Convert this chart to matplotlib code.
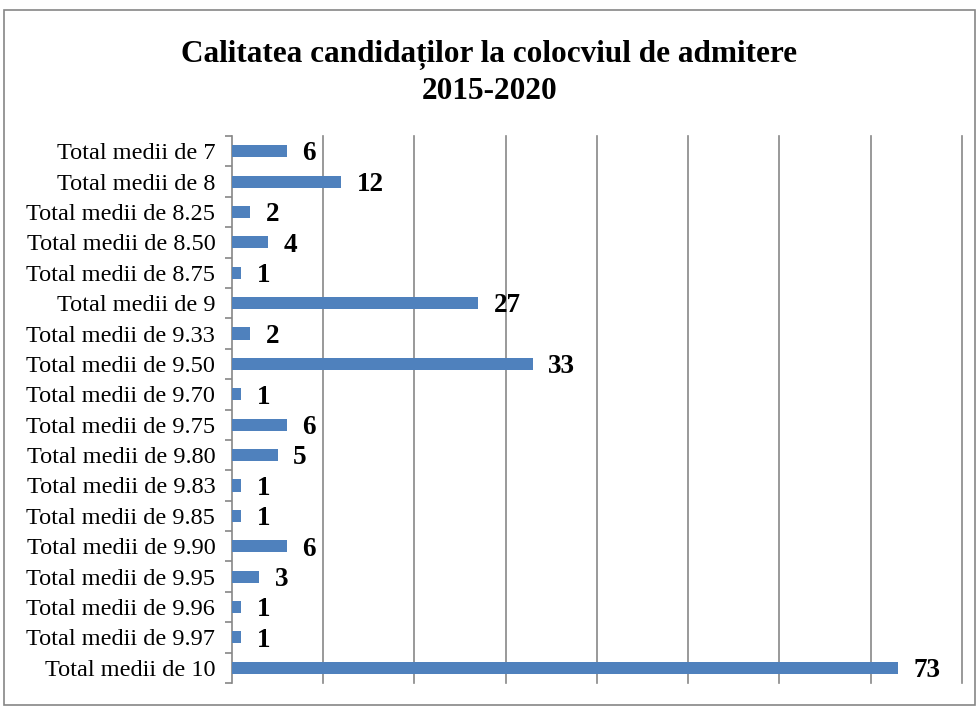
import matplotlib
matplotlib.use("Agg")
import matplotlib.pyplot as plt
from matplotlib.patches import Rectangle
import numpy as np

categories = ["Total medii de 7", "Total medii de 8", "Total medii de 8.25", "Total medii de 8.50",
              "Total medii de 8.75", "Total medii de 9", "Total medii de 9.33", "Total medii de 9.50",
              "Total medii de 9.70", "Total medii de 9.75", "Total medii de 9.80", "Total medii de 9.83",
              "Total medii de 9.85", "Total medii de 9.90", "Total medii de 9.95", "Total medii de 9.96",
              "Total medii de 9.97", "Total medii de 10"]
values = [6, 12, 2, 4, 1, 27, 2, 33, 1, 6, 5, 1, 1, 6, 3, 1, 1, 73]
title = "Calitatea candidaților la colocviul de admitere\n2015-2020"

plt.rcParams['font.family'] = ['Liberation Serif', 'DejaVu Serif']

fig = plt.figure(figsize=(9.79, 7.07), dpi=100)
fig.patches.append(Rectangle((4/979, 1-705/707), 971/979, 695/707, transform=fig.transFigure,
                             fill=False, edgecolor='#868686', linewidth=1.2))

ax = fig.add_axes([232/979, 1-683/707, 730/979, 547/707])
n = len(categories)
y = np.arange(n)
ax.barh(y, values, height=0.4, color='#4F81BD', zorder=3)
ax.set_ylim(n-0.5, -0.5)
ax.set_xlim(0, 80)

for yi, v in zip(y, values):
    ax.annotate(str(v), (v, yi), xytext=(11, -2), textcoords='offset points',
                ha='left', va='center', fontsize=19.5, fontweight='bold', color='black')

ax.set_xticks(np.arange(10, 81, 10))
ax.xaxis.grid(True, color='#878787', linewidth=1.2, zorder=0)
for gl in ax.get_xgridlines():
    gl.set_clip_on(False)
ax.tick_params(axis='x', length=0, labelbottom=False)
ax.set_yticks(y)
ax.set_yticklabels(categories, fontsize=17.5)
ax.tick_params(axis='y', which='major', length=0, pad=12)
ax.set_yticks(np.arange(-0.5, n, 1), minor=True)
ax.tick_params(axis='y', which='minor', length=5, color='#868686', width=1.2)
for s in ['top', 'right', 'bottom']:
    ax.spines[s].set_visible(False)
ax.spines['left'].set_color('#868686')
ax.spines['left'].set_linewidth(1.2)

fig.text(0.5, 1-73/707, title, ha='center', va='center', fontsize=22.5, fontweight='bold',
         linespacing=1.3)

fig.savefig("out.png", dpi=100)
